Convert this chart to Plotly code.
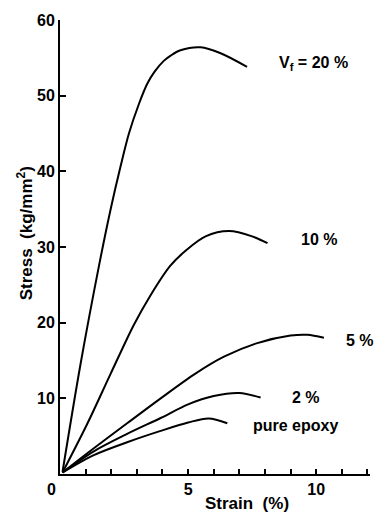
import plotly.graph_objects as go

strain_20 = [0.1, 0.8, 1.55, 1.97, 2.36, 2.69, 3.08, 3.41, 3.7, 4.05, 4.32, 4.7, 5.49, 6.27, 7.3]
stress_20 = [0.3, 14.5, 28.0, 34.9, 40.6, 45.0, 48.9, 51.6, 53.2, 54.6, 55.3, 56.0, 56.4, 55.6, 53.8]

strain_10 = [0.1, 1.06, 1.97, 2.88, 3.53, 4.3, 4.9, 5.68, 6.6, 7.5, 8.1]
stress_10 = [0.2, 6.6, 13.2, 19.7, 23.6, 27.5, 29.5, 31.4, 32.1, 31.4, 30.5]

strain_5 = [0.1, 1.32, 2.62, 3.93, 5.3, 6.4, 7.7, 9.0, 9.65, 10.3]
stress_5 = [0.2, 3.4, 6.7, 10.0, 13.3, 15.5, 17.3, 18.3, 18.4, 18.0]

strain_2 = [0.1, 1.32, 2.62, 3.93, 5.0, 6.0, 7.0, 7.83]
stress_2 = [0.2, 3.0, 5.3, 7.4, 9.2, 10.3, 10.7, 10.1]

strain_ep = [0.1, 1.32, 2.62, 3.93, 5.0, 5.8, 6.53]
stress_ep = [0.2, 2.5, 4.2, 5.7, 6.8, 7.35, 6.7]

curve_labels = ["V<sub>f</sub> = 20 %", "10 %", "5 %", "2 %", "pure epoxy"]
label_x = [9.9, 10.1, 11.7, 9.6, 9.2]
label_y = [54.2, 31.0, 17.6, 10.1, 6.4]

x_tickvals = list(range(0, 13))
x_ticktext = ["" if v not in (5, 10) else str(v) for v in x_tickvals]
y_tickvals = [10, 20, 30, 40, 50, 60]
y_ticktext = ["10", "20", "30", "40", "50", "60"]

FONT = "Liberation Sans"

fig = go.Figure()
for xs, ys in [(strain_20, stress_20), (strain_10, stress_10), (strain_5, stress_5),
               (strain_2, stress_2), (strain_ep, stress_ep)]:
    fig.add_trace(go.Scatter(x=xs, y=ys, mode="lines",
                             line=dict(color="black", width=2, shape="spline", smoothing=0.9),
                             showlegend=False, hoverinfo="skip"))

for t, x, y in zip(curve_labels, label_x, label_y):
    fig.add_annotation(x=x, y=y, text=t, showarrow=False, xref="x", yref="y",
                       font=dict(family=FONT, size=16, color="black", weight="bold"))

fig.add_annotation(x=-0.026, y=0, text="0", showarrow=False, xref="paper", yref="paper",
                   xanchor="center", yanchor="middle", yshift=-15,
                   font=dict(family=FONT, size=16, color="black", weight="bold"))
fig.add_annotation(x=0.603, y=0, text="Strain  (%)", showarrow=False, xref="paper", yref="paper",
                   xanchor="center", yanchor="middle", yshift=-29,
                   font=dict(family=FONT, size=17, color="black", weight="bold"))
fig.add_annotation(x=-0.113, y=0.53, text="Stress  (kg/mm<sup>2</sup>)", showarrow=False,
                   xref="paper", yref="paper", textangle=-90, xanchor="center", yanchor="middle",
                   font=dict(family=FONT, size=17, color="black", weight="bold"))

fig.update_layout(
    width=385, height=518,
    margin=dict(l=60, r=15, t=15, b=44),
    paper_bgcolor="white", plot_bgcolor="white",
    xaxis=dict(range=[0, 12.1], tickvals=x_tickvals, ticktext=x_ticktext,
               ticks="inside", ticklen=5, tickwidth=1.5, tickcolor="black",
               showline=True, linecolor="black", linewidth=2, showgrid=False, zeroline=False,
               tickfont=dict(family=FONT, size=16, color="black", weight="bold")),
    yaxis=dict(range=[0, 60], tickvals=y_tickvals, ticktext=y_ticktext,
               ticks="inside", ticklen=6, tickwidth=1.5, tickcolor="black",
               showline=True, linecolor="black", linewidth=2, showgrid=False, zeroline=False,
               tickfont=dict(family=FONT, size=16, color="black", weight="bold")),
)

fig.write_html("out.html")
